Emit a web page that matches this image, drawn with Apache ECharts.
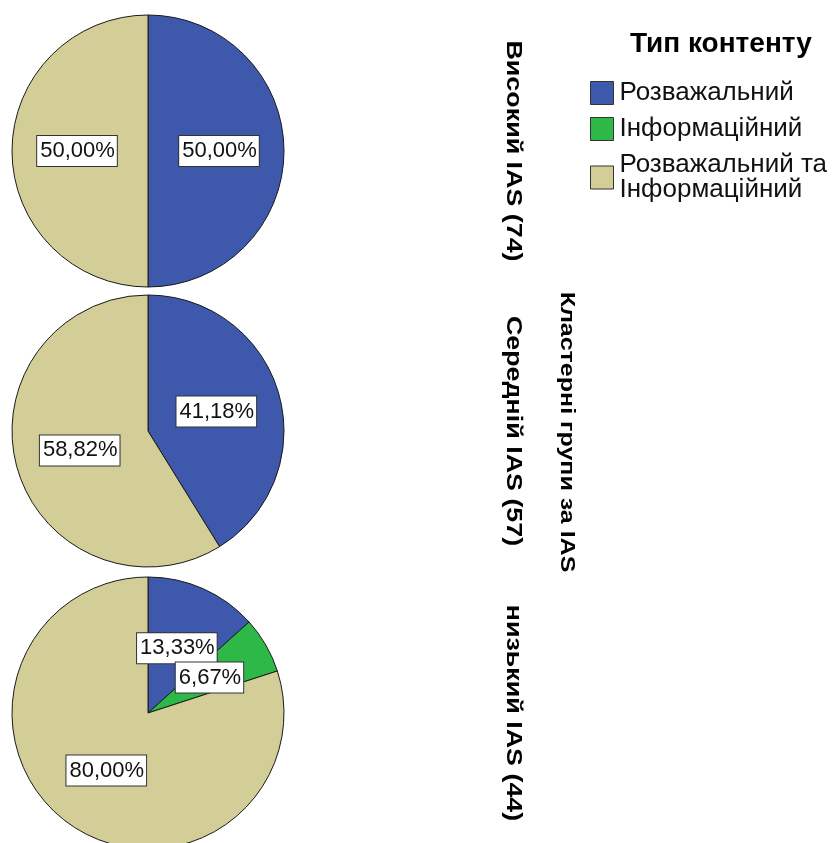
<!DOCTYPE html>
<html>
<head>
<meta charset="utf-8">
<script src="https://cdn.jsdelivr.net/npm/echarts@6/dist/echarts.min.js"></script>
<style>
html,body{margin:0;padding:0;background:#fff;}
#chart{width:835px;height:843px;}
</style>
</head>
<body>
<div id="chart"></div>
<script>
// ---- data ----
const categories = ['Розважальний', 'Інформаційний', 'Розважальний та Інформаційний'];
const groups = ['Високий IAS (74)', 'Середній IAS (57)', 'низький IAS (44)'];
const entertainment = [50.00, 41.18, 13.33];
const informational = [0.00, 0.00, 6.67];
const both = [50.00, 58.82, 80.00];
const legendTitle = 'Тип контенту';
const panelTitle = 'Кластерні групи за IAS';

// ---- styling ----
const colors = ['#3E58AC', '#2EB848', '#D3CE97'];
const centersY = [151, 431, 713];
const pieX = 148;
const pieR = 136;
const FONT = "'Liberation Sans', Arial, sans-serif";

const seriesValues = [entertainment, informational, both];

const chart = echarts.init(document.getElementById('chart'), null, {renderer: 'canvas'});

const series = groups.map((g, i) => ({
  type: 'pie',
  name: g,
  center: [pieX, centersY[i]],
  radius: pieR,
  startAngle: 90,
  clockwise: true,
  animation: false,
  silent: true,
  avoidLabelOverlap: false,
  minShowLabelAngle: 0,
  labelLayout: {hideOverlap: false},
  itemStyle: {borderColor: '#1a1a1a', borderWidth: 1},
  label: {
    show: true,
    position: 'inside',
    overflow: 'none',
    formatter: p => p.value.toFixed(2).replace('.', ',') + '%',
    fontFamily: "'Liberation Sans Narrow', " + FONT,
    fontSize: 22,
    lineHeight: 22,
    color: '#111',
    backgroundColor: '#fff',
    borderColor: '#333',
    borderWidth: 1,
    padding: [5, 2, 3, 3]
  },
  labelLine: {show: false},
  emphasis: {disabled: true},
  data: categories.map((c, j) => ({
    name: c,
    value: seriesValues[j][i],
    itemStyle: {color: colors[j]}
  })).filter(d => d.value > 0)
}));

const graphics = groups.map((g, i) => ({
  type: 'text',
  x: 513,
  y: centersY[i],
  rotation: -Math.PI / 2,
  scaleX: 1.22,
  style: {
    text: g,
    font: 'bold 22px ' + FONT,
    fill: '#000',
    align: 'center',
    verticalAlign: 'middle'
  }
}));
graphics.push({
  type: 'text',
  x: 567,
  y: 432,
  rotation: -Math.PI / 2,
  scaleX: 1.25,
  style: {
    text: panelTitle,
    font: 'bold 20px ' + FONT,
    fill: '#000',
    align: 'center',
    verticalAlign: 'middle'
  }
});

chart.setOption({
  animation: false,
  backgroundColor: '#fff',
  title: {
    text: legendTitle,
    left: 630,
    top: 30,
    padding: 0,
    textStyle: {fontFamily: FONT, fontSize: 28, fontWeight: 'bold', color: '#000'}
  },
  legend: {
    orient: 'vertical',
    left: 590,
    top: 80,
    padding: 0,
    itemWidth: 23,
    itemHeight: 23,
    itemGap: 10,
    icon: 'rect',
    selectedMode: false,
    data: categories,
    formatter: n => n.replace(' та ', ' та\n'),
    itemStyle: {borderColor: '#333', borderWidth: 1},
    textStyle: {fontFamily: FONT, fontSize: 26, color: '#111', lineHeight: 25, padding: [0, 0, 0, 1]}
  },
  graphic: graphics,
  series: series
});
</script>
</body>
</html>
